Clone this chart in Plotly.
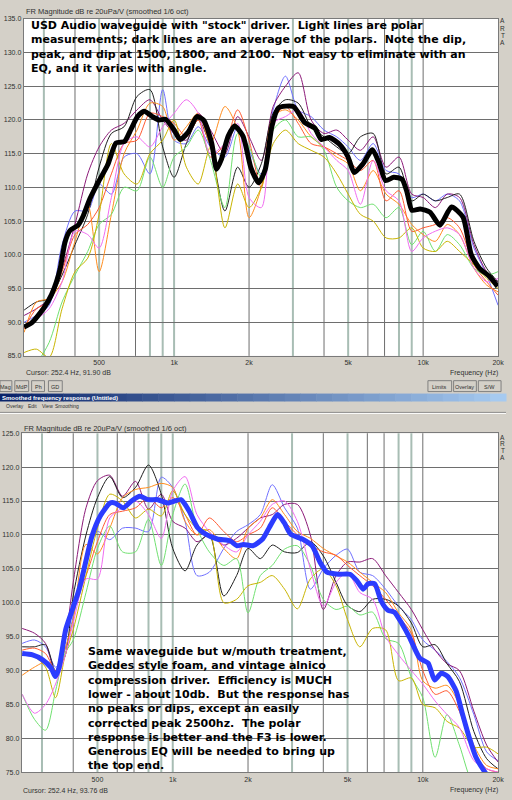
import numpy as np
import plotly.graph_objects as go

W, H = 512, 800

# ---- top panel: stock driver ----
# thick average curve (Hz, dB)
top_avg_freq = [250, 268, 300, 322, 337, 349, 365, 382, 412, 432, 459, 495, 542, 585, 632,
                671, 713, 758, 818, 870, 924, 997, 1059, 1144, 1234, 1312, 1415, 1481, 1550, 1649,
                1751, 1891, 2039, 2188, 2324, 2471, 2627, 3013, 3350, 3671, 3902, 4209, 4613, 4981, 5290,
                5711, 6257, 6645, 7067, 7623, 8233, 8616, 9019, 9730, 10660, 11680, 13000, 14450, 15610, 16840,
                18450, 19900]
top_avg_db = [89.3, 89.9, 92.1, 94.1, 96.0, 98.0, 101.9, 103.6, 104.4, 105.8, 108.3, 110.7, 113.4, 116.6, 116.8,
              118.6, 120.5, 121.3, 120.5, 120.0, 120.1, 118.6, 117.1, 118.3, 120.5, 120.0, 116.6, 112.7, 114.2, 117.6,
              119.1, 117.6, 112.8, 110.7, 112.7, 119.1, 121.8, 122.0, 119.6, 118.8, 117.1, 117.4, 116.4, 114.6, 112.2,
              113.4, 115.6, 113.7, 111.0, 111.5, 111.2, 109.3, 106.6, 106.8, 106.3, 104.4, 107.1, 105.6, 100.0, 98.0,
              96.8, 95.3]

# light polar curves, all on the same frequency points
top_freq = [250, 280, 315, 355, 400, 450, 500, 560, 630, 710, 800, 900, 1000, 1120, 1250, 1400, 1600, 1800, 2000,
            2240, 2500, 2800, 3150, 3550, 4000, 4500, 5000, 5600, 6300, 7100, 8000, 9000, 10000, 11200, 12500,
            14000, 16000, 18000, 20000]
top_blue = [90.0, 91.0, 92.5, 101.5, 106.5, 106.5, 110.5, 109.0, 114.5, 115.0, 112.0, 124.5, 117.0, 116.5, 119.0,
            116.0, 114.5, 119.0, 115.5, 112.0, 121.5, 126.5, 121.5, 120.5, 118.5, 117.5, 116.0, 114.0, 116.5, 112.5,
            112.0, 108.5, 109.0, 108.0, 109.0, 108.0, 101.0, 97.0, 92.5]
top_purple = [91.0, 92.0, 93.5, 98.0, 104.5, 112.0, 116.0, 118.5, 119.5, 121.5, 123.0, 120.0, 118.0, 117.0, 121.0,
              118.5, 115.0, 120.5, 117.5, 114.0, 122.0, 125.0, 127.0, 120.0, 118.0, 118.5, 117.0, 115.5, 117.5, 113.0,
              114.5, 109.0, 108.5, 107.0, 109.0, 108.5, 101.5, 97.5, 96.0]
top_black = [91.8, 93.0, 93.5, 97.0, 101.5, 106.0, 113.0, 118.0, 119.0, 123.5, 124.5, 116.0, 111.5, 116.5, 120.0,
             116.0, 106.5, 113.0, 110.0, 113.5, 121.0, 123.0, 122.5, 119.0, 117.5, 116.0, 115.0, 117.5, 118.0, 112.0,
             113.0, 108.0, 109.0, 108.0, 108.5, 109.0, 102.0, 98.0, 96.0]
top_orange = [88.5, 93.0, 93.5, 96.0, 102.0, 107.5, 97.5, 106.0, 115.0, 118.5, 122.5, 122.0, 117.0, 119.0, 121.0,
              116.5, 122.0, 118.5, 105.5, 110.0, 120.5, 121.5, 120.0, 117.5, 116.0, 114.5, 113.5, 109.5, 112.5, 109.0,
              107.5, 104.5, 103.0, 102.0, 104.5, 103.0, 98.0, 95.5, 94.5]
top_red = [89.0, 92.0, 93.0, 97.5, 103.0, 104.5, 107.0, 112.0, 116.5, 117.0, 121.0, 120.5, 119.5, 117.5, 120.0,
           114.5, 116.5, 121.5, 117.0, 110.0, 120.0, 122.0, 119.5, 116.5, 116.0, 115.0, 114.0, 112.5, 114.0, 108.0,
           109.5, 103.5, 104.0, 104.5, 105.5, 104.0, 98.5, 96.0, 94.0]
top_green = [83.0, 84.0, 87.0, 93.0, 97.0, 100.5, 104.5, 106.0, 110.0, 109.5, 114.5, 110.0, 114.5, 116.0, 118.5,
             114.0, 107.0, 118.0, 116.0, 111.5, 118.5, 120.0, 117.5, 117.5, 115.5, 110.0, 108.0, 107.0, 107.5, 105.5,
             107.0, 101.5, 103.5, 100.5, 103.0, 101.5, 98.0, 97.0, 97.5]
top_olive = [85.5, 86.0, 84.8, 92.0, 97.5, 99.5, 106.0, 116.5, 112.0, 110.5, 115.0, 117.0, 120.0, 113.0, 110.5,
             116.0, 104.0, 110.5, 107.0, 110.0, 116.5, 118.5, 116.5, 115.5, 114.5, 112.0, 109.0, 106.0, 105.0, 102.5,
             102.5, 104.0, 101.0, 100.5, 102.0, 100.5, 98.5, 96.5, 95.0]
top_pink = [89.5, 90.5, 92.0, 96.0, 103.5, 103.0, 101.0, 108.5, 116.5, 117.5, 116.0, 119.0, 121.0, 123.0, 121.0,
            115.0, 116.5, 119.5, 108.5, 107.0, 119.5, 120.5, 121.5, 118.0, 116.0, 114.0, 112.5, 107.5, 114.0, 109.5,
            108.0, 100.5, 102.5, 103.5, 104.0, 103.0, 98.0, 96.0, 96.5]

# ---- bottom panel: treated mouth, alnico driver ----
bot_avg_freq = [250, 275, 301, 326, 339, 351, 373, 391, 421, 448, 475, 513, 562, 588, 634,
                684, 739, 797, 872, 955, 1078, 1164, 1255, 1354, 1506, 1700, 1807, 1920, 2090, 2289,
                2433, 2624, 2790, 2962, 3294, 3609, 3891, 4136, 4601, 5113, 5436, 5776, 6045, 6420, 6823,
                7253, 7700, 8222, 8844, 9730, 10500, 11150, 11855, 12590, 13590, 14430, 15340, 16310, 17580, 19000]
bot_avg_db = [92.5, 92.3, 91.6, 90.4, 89.1, 90.4, 96.0, 98.3, 101.8, 105.9, 109.8, 112.8, 114.7, 114.7, 114.0,
              115.0, 115.7, 115.2, 115.2, 114.7, 115.2, 113.5, 111.1, 110.1, 109.4, 109.1, 108.4, 108.6, 108.4, 109.4,
              111.1, 113.0, 111.8, 110.1, 109.4, 108.4, 105.9, 104.5, 104.2, 104.2, 103.3, 102.0, 102.8, 102.8, 100.2,
              98.9, 98.6, 97.0, 94.9, 91.8, 91.1, 88.6, 89.6, 89.1, 87.0, 83.5, 80.1, 77.2, 75.2, 73.5]

bot_freq = [250, 280, 310, 340, 370, 400, 450, 500, 560, 630, 710, 800, 900, 1000, 1120, 1250, 1400, 1600, 1800,
            2000, 2240, 2500, 2800, 3150, 3550, 4000, 4500, 5000, 5600, 6300, 7100, 8000, 9000, 10000, 11200,
            12500, 14000, 16000, 18000, 20000]
bot_blue = [94.0, 94.5, 93.5, 90.5, 93.0, 98.0, 106.0, 110.5, 109.3, 111.0, 111.0, 110.5, 118.5, 117.0, 112.0,
            104.0, 104.5, 108.0, 110.5, 111.5, 113.0, 117.4, 114.0, 111.0, 102.0, 105.0, 107.0, 107.9, 104.5, 104.0,
            102.0, 99.5, 97.5, 94.5, 93.0, 91.3, 89.0, 83.5, 78.0, 76.7]
bot_purple = [96.2, 95.5, 94.0, 89.5, 94.0, 103.0, 114.0, 118.0, 118.8, 115.7, 117.9, 113.8, 116.0, 112.0, 111.0,
              109.0, 110.0, 108.5, 109.5, 111.0, 112.5, 113.0, 114.5, 114.5, 110.0, 99.0, 104.0, 106.0, 106.0, 106.5,
              104.0, 101.5, 99.0, 96.0, 93.0, 91.0, 90.0, 84.0, 79.0, 76.5]
bot_black = [93.5, 93.5, 93.8, 90.0, 92.0, 101.0, 110.0, 115.5, 118.6, 115.5, 117.0, 120.3, 116.0, 108.0, 104.7,
             108.5, 110.0, 101.0, 104.0, 108.0, 106.5, 108.5, 107.5, 107.4, 109.0, 106.9, 103.0, 99.6, 98.7, 100.5,
             100.5, 99.5, 97.0, 93.5, 93.8, 91.0, 88.4, 81.0, 77.0, 75.5]
bot_orange = [89.3, 90.5, 91.2, 89.0, 93.0, 97.5, 108.6, 107.2, 111.0, 115.5, 116.7, 117.0, 117.6, 117.0, 112.0,
              110.0, 110.8, 108.0, 106.5, 111.0, 112.5, 115.2, 113.0, 110.5, 109.5, 108.0, 106.9, 106.0, 104.5, 103.0,
              101.5, 98.5, 96.0, 88.5, 87.4, 87.8, 85.0, 79.0, 76.0, 75.5]
bot_red = [93.0, 93.3, 92.5, 90.0, 96.0, 99.5, 104.0, 109.0, 113.0, 113.5, 114.0, 115.5, 114.0, 115.5, 113.0,
           110.0, 112.5, 110.5, 109.0, 110.0, 111.0, 114.0, 112.0, 110.0, 108.5, 107.5, 107.0, 105.5, 104.0, 102.5,
           100.5, 98.0, 95.5, 90.0, 86.5, 87.0, 84.0, 78.0, 75.5, 75.0]
bot_green = [86.5, 82.8, 81.2, 87.0, 92.5, 94.5, 101.5, 108.0, 111.3, 107.5, 107.5, 112.3, 105.5, 113.0, 117.5,
             111.0, 107.5, 105.5, 106.5, 98.5, 104.0, 105.5, 107.9, 108.4, 105.5, 100.5, 99.0, 99.5, 98.2, 98.6,
             94.7, 94.0, 89.0, 86.0, 77.2, 83.5, 79.0, 73.0, 72.0, 72.0]
bot_olive = [92.5, 92.0, 90.5, 86.0, 92.0, 96.0, 104.0, 111.0, 116.0, 115.0, 112.5, 113.8, 112.8, 116.5, 113.0,
             111.0, 110.5, 100.0, 100.5, 102.5, 103.0, 104.0, 102.0, 99.1, 103.5, 105.0, 102.5, 97.5, 93.5, 96.2,
             96.0, 88.5, 88.9, 85.0, 84.5, 82.5, 81.5, 78.7, 78.7, 77.7]
bot_pink = [86.5, 83.7, 85.0, 88.0, 92.0, 97.0, 103.5, 103.5, 112.5, 114.0, 115.0, 113.0, 109.5, 116.5, 118.6,
            113.0, 110.5, 108.5, 107.5, 110.0, 112.0, 114.5, 115.0, 112.0, 105.0, 99.5, 103.0, 104.5, 101.5, 100.5,
            95.0, 92.3, 90.0, 88.0, 85.5, 83.5, 81.6, 76.7, 75.5, 75.0]

tick_freqs = [500, 1000, 2000, 5000, 10000, 20000]
tick_text = ['500', '1k', '2k', '5k', '10k', '20k']
grid_light = [300, 500, 800, 900, 1000, 3000, 5000, 8000, 9000]
grid_dark = [400, 600, 700, 2000, 4000, 6000, 7000, 10000]

top_note = ('USD Audio waveguide with "stock" driver.\u00a0 Light lines are polar<br>'
            'measurements; dark lines are an average of the polars.\u00a0 Note the dip,<br>'
            'peak, and dip at 1500, 1800, and 2100.\u00a0 Not easy to eliminate with an<br>'
            'EQ, and it varies with angle.')
bot_note = ('Same waveguide but w/mouth treatment,<br>'
            'Geddes style foam, and vintage alnico<br>'
            'compression driver.\u00a0 Efficiency is MUCH<br>'
            'lower - about 10db.\u00a0 But the response has<br>'
            'no peaks or dips, except an easily<br>'
            'corrected peak 2500hz.\u00a0 The polar<br>'
            'response is better and the F3 is lower.<br>'
            'Generous EQ will be needed to bring up<br>'
            'the top end.')

polar_colors = ['#7070ff', '#8c1a78', '#202020', '#ff8c1e', '#ff5a32', '#70e070', '#c8b400', '#f06cf0']
top_polars = [top_blue, top_purple, top_black, top_orange, top_red, top_green, top_olive, top_pink]
bot_polars = [bot_blue, bot_purple, bot_black, bot_orange, bot_red, bot_green, bot_olive, bot_pink]


def px(x):
    return x / W


def py(y):
    return 1 - y / H


fig = go.Figure()

for vals, col in zip(top_polars, polar_colors):
    fig.add_trace(go.Scatter(x=top_freq, y=vals, mode='lines', xaxis='x', yaxis='y', hoverinfo='skip',
                             line=dict(color=col, width=1, shape='spline', smoothing=0.8)))
fig.add_trace(go.Scatter(x=top_avg_freq, y=top_avg_db, mode='lines', xaxis='x', yaxis='y', hoverinfo='skip',
                         line=dict(color='#000000', width=5, shape='spline', smoothing=0.6)))

for vals, col in zip(bot_polars, polar_colors):
    fig.add_trace(go.Scatter(x=bot_freq, y=vals, mode='lines', xaxis='x2', yaxis='y2', hoverinfo='skip',
                             line=dict(color=col, width=1, shape='spline', smoothing=0.8)))
fig.add_trace(go.Scatter(x=bot_avg_freq, y=bot_avg_db, mode='lines', xaxis='x2', yaxis='y2', hoverinfo='skip',
                         line=dict(color='#2c3cff', width=5, shape='spline', smoothing=0.6)))

small = dict(family='Liberation Sans, Arial', size=7, color='#303030')
xcommon = dict(type='log', range=[np.log10(249), np.log10(20000)], showgrid=False, zeroline=False,
               showline=True, mirror=True, linecolor='#7a7a7a', linewidth=1, ticks='',
               tickvals=tick_freqs, ticktext=tick_text, tickfont=small)
ycommon = dict(dtick=5, tickformat='.1f', showgrid=True, gridcolor='#6e6e6e', gridwidth=1, zeroline=False,
               showline=True, mirror=True, linecolor='#7a7a7a', linewidth=1, ticks='', tickfont=small)

fig.update_layout(
    width=W, height=H, margin=dict(l=0, r=0, t=0, b=0),
    paper_bgcolor='#d4d0c8', plot_bgcolor='#ffffff', showlegend=False, hovermode=False,
    xaxis=dict(domain=[px(24), px(504)], anchor='y', **xcommon),
    yaxis=dict(domain=[py(355), py(15)], anchor='x', range=[85, 135], **ycommon),
    xaxis2=dict(domain=[px(22), px(504)], anchor='y2', **xcommon),
    yaxis2=dict(domain=[py(775), py(433)], anchor='x2', range=[75, 125], **ycommon),
)

shapes = []
# vertical grid lines
for xr, yr in [('x', 'y domain'), ('x2', 'y2 domain')]:
    for f in grid_light:
        shapes.append(dict(type='line', xref=xr, yref=yr, x0=f, x1=f, y0=0, y1=1, layer='below',
                           line=dict(color='#a8bdb4', width=2)))
    for f in grid_dark:
        shapes.append(dict(type='line', xref=xr, yref=yr, x0=f, x1=f, y0=0, y1=1, layer='below',
                           line=dict(color='#6e6e6e', width=1)))

# window chrome: buttons, title bar, menu
def button(x0, x1, y0, y1):
    shapes.append(dict(type='rect', xref='paper', yref='paper', x0=px(x0), x1=px(x1), y0=py(y1), y1=py(y0),
                       fillcolor='#d4d0c8', line=dict(color='#808080', width=1)))

buttons_left = [('Mag', 0, 12), ('MdP', 15, 29), ('Ph', 32, 45), ('GD', 49, 63)]
buttons_right = [('Limits', 433, 457), ('Overlay', 459, 482), ('S/W', 484, 507)]
for _, a, b in buttons_left + buttons_right:
    button(a, b, 380, 391)

n = 32
c0 = np.array([10, 36, 106])
c1 = np.array([166, 202, 240])
for i in range(n):
    c = c0 + (c1 - c0) * i / (n - 1)
    shapes.append(dict(type='rect', xref='paper', yref='paper', x0=px(W * i / n), x1=px(W * (i + 1) / n + 0.5),
                       y0=py(401), y1=py(393), line=dict(width=0),
                       fillcolor='rgb(%d,%d,%d)' % tuple(c)))
shapes.append(dict(type='line', xref='paper', yref='paper', x0=0, x1=1, y0=py(412), y1=py(412),
                   line=dict(color='#808080', width=1)))
shapes.append(dict(type='line', xref='paper', yref='paper', x0=0, x1=1, y0=py(413), y1=py(413),
                   line=dict(color='#ffffff', width=1)))

ann = []


def label(text, x, y, size=7, xanchor='left', color='#303030', bold=False, family='Liberation Sans, Arial'):
    ann.append(dict(text='<b>%s</b>' % text if bold else text, x=px(x), y=py(y), xref='paper', yref='paper',
                    xanchor=xanchor, yanchor='middle', showarrow=False, borderpad=0,
                    font=dict(family=family, size=size, color=color)))


title = 'FR Magnitude dB re 20uPa/V (smoothed 1/6 oct)'
label(title, 25, 8, size=7.5)
label(title, 23, 428, size=7.5)
label('Cursor: 252.4 Hz, 91.90 dB', 25, 372)
label('Cursor: 252.4 Hz, 93.76 dB', 22, 793)
label('Frequency (Hz)', 505, 372, xanchor='right')
label('Frequency (Hz)', 505, 793, xanchor='right')
for i, ch in enumerate('ARTA'):
    label(ch, 508.5, 17 + i * 7.3, size=6.5, xanchor='center')
    label(ch, 508.5, 437 + i * 6.7, size=6.5, xanchor='center')
for t, a, b in buttons_left + buttons_right:
    label(t, (a + b) / 2, 386, size=5.5, xanchor='center')
label('Smoothed frequency response (Untitled)', 1, 397, size=6, color='#ffffff', bold=True)
for t, x in [('Overlay', 5), ('Edit', 27), ('View', 41), ('Smoothing', 55)]:
    label(t, x, 406, size=5)

note_font = dict(family='DejaVu Sans, Verdana', size=11, color='#000000')
ann.append(dict(text='<b>%s</b>' % top_note, x=px(29), y=py(13), xref='paper', yref='paper',
                xanchor='left', yanchor='top', align='left', showarrow=False, font=note_font))
ann.append(dict(text='<b>%s</b>' % bot_note, x=px(87), y=py(645), xref='paper', yref='paper',
                xanchor='left', yanchor='top', align='left', showarrow=False, font=note_font))

fig.update_layout(shapes=shapes, annotations=ann)
fig.write_html('out.html', config={'displayModeBar': False},
               post_script="document.body.style.margin='0';document.body.style.overflow='hidden';")
